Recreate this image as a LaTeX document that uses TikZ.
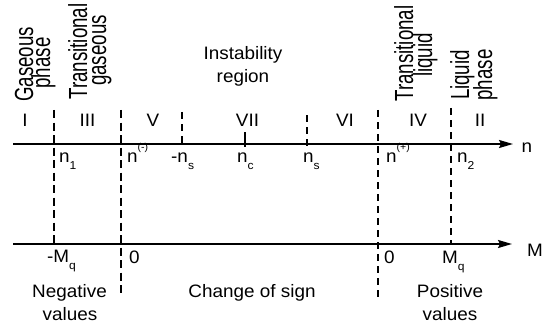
\documentclass[tikz,border=0pt]{standalone}
\usepackage{fontspec}
\setmainfont{Liberation Sans}
\usetikzlibrary{arrows.meta}
\newcommand\hs[1]{\scalebox{1.05}[1]{#1}}
\newcommand\vs[1]{\scalebox{1}[1.4]{#1}}
\newcommand\lo[1]{\raisebox{-7pt}{\fontsize{11.5}{11.5}\selectfont #1}}
\newcommand\hi[1]{\raisebox{12pt}{\fontsize{10}{10}\selectfont #1}}
\begin{document}
\begin{tikzpicture}[x=1pt,y=-1pt,
  htxt/.style={font=\fontsize{18}{18}\selectfont, inner sep=0pt, anchor=base},
  hlab/.style={font=\fontsize{18}{18}\selectfont, inner sep=0pt, anchor=base west},
  vtxt/.style={font=\fontsize{18.7}{18.7}\selectfont, inner sep=0pt, anchor=base, rotate=90},
  axis/.style={line width=1.8pt, -{Stealth[length=14pt,width=8pt,inset=2pt]}},
  bolddash/.style={line width=2.6pt, dash pattern=on 8pt off 4.5pt},
  thindash/.style={line width=1.7pt, dash pattern=on 7pt off 5pt},
  tick/.style={line width=1.3pt}]
\fill[white] (0,0) rectangle (552,329);
\useasboundingbox (0,0) rectangle (552,329);

% axes
\coordinate (nL) at (13,144); \coordinate (nR) at (513,144);
\coordinate (mL) at (13,244); \coordinate (mR) at (512,244);
\draw[axis] (nL) -- (nR);
\draw[axis] (mL) -- (mR);

% boundaries
\coordinate (d1t) at (54,110);  \coordinate (d1b) at (54,244);
\coordinate (d2t) at (121,110); \coordinate (d2b) at (121,297);
\coordinate (d3t) at (182,112); \coordinate (d3b) at (182,147);
\coordinate (tct) at (245,132); \coordinate (tcb) at (245,147);
\coordinate (d4t) at (307,115); \coordinate (d4b) at (307,147);
\coordinate (d5t) at (378,110); \coordinate (d5b) at (378,297);
\coordinate (d6t) at (451,108); \coordinate (d6b) at (451,244);
\draw[bolddash] (d1t) -- (d1b);
\draw[bolddash] (d2t) -- (d2b);
\draw[thindash] (d3t) -- (d3b);
\draw[tick] (tct) -- (tcb);
\draw[thindash] (d4t) -- (d4b);
\draw[thindash] (d5t) -- (d5b);
\draw[thindash] (d6t) -- (d6b);

% vertical headings
\node[vtxt] (gas1) at (33,64.5) {\vs{Gaseous}};
\node[vtxt] (gas2) at (50,63) {\vs{phase}};
\node[vtxt] (tg1) at (87,51.5) {\vs{Transitional}};
\node[vtxt] (tg2) at (106,50.5) {\vs{gaseous}};
\node[vtxt] (tl1) at (413,53.5) {\vs{Transitional}};
\node[vtxt] (tl2) at (432,55) {\vs{liquid}};
\node[vtxt] (lp1) at (469,75) {\vs{Liquid}};
\node[vtxt] (lp2) at (492,75) {\vs{phase}};

% instability
\node[htxt] (inst1) at (243,60) {\hs{Instability}};
\node[htxt] (inst2) at (243,83) {\hs{region}};

% roman numerals
\node[htxt] (rI) at (25,127) {\hs{I}};
\node[htxt] (rIII) at (87.5,127) {\hs{III}};
\node[htxt] (rV) at (153,127) {\hs{V}};
\node[htxt] (rVII) at (247.5,126) {\hs{VII}};
\node[htxt] (rVI) at (345,127) {\hs{VI}};
\node[htxt] (rIV) at (418,127) {\hs{IV}};
\node[htxt] (rII) at (480,127) {\hs{II}};

% n labels
\node[hlab] (n1) at (59,162) {\hs{n\lo{1}}};
\node[hlab] (nm) at (127,162) {\hs{n\hi{(-)}}};
\node[hlab] (mns) at (171,162) {\hs{-n\lo{s}}};
\node[hlab] (nc) at (237,162) {\hs{n\lo{c}}};
\node[hlab] (ns) at (303,162) {\hs{n\lo{s}}};
\node[hlab] (np) at (386,162) {\hs{n\hi{(+)}}};
\node[hlab] (n2) at (457,162) {\hs{n\lo{2}}};
\node[htxt] (nlab) at (527,152) {\hs{n}};

% M labels
\node[hlab] (mMq) at (47,262) {\hs{-M\lo{q}}};
\node[hlab] (z1) at (129,263) {\hs{0}};
\node[hlab] (z2) at (384,263) {\hs{0}};
\node[hlab] (Mq) at (442,263) {\hs{M\lo{q}}};
\node[htxt] (Mlab) at (535,256) {\hs{M}};

% bottom texts
\node[htxt] (neg1) at (69.5,297) {\hs{Negative}};
\node[htxt] (neg2) at (70,320) {\hs{values}};
\node[htxt] (chg) at (252,297) {\hs{Change of sign}};
\node[htxt] (pos1) at (450,297) {\hs{Positive}};
\node[htxt] (pos2) at (450,320) {\hs{values}};
\end{tikzpicture}
\end{document}
